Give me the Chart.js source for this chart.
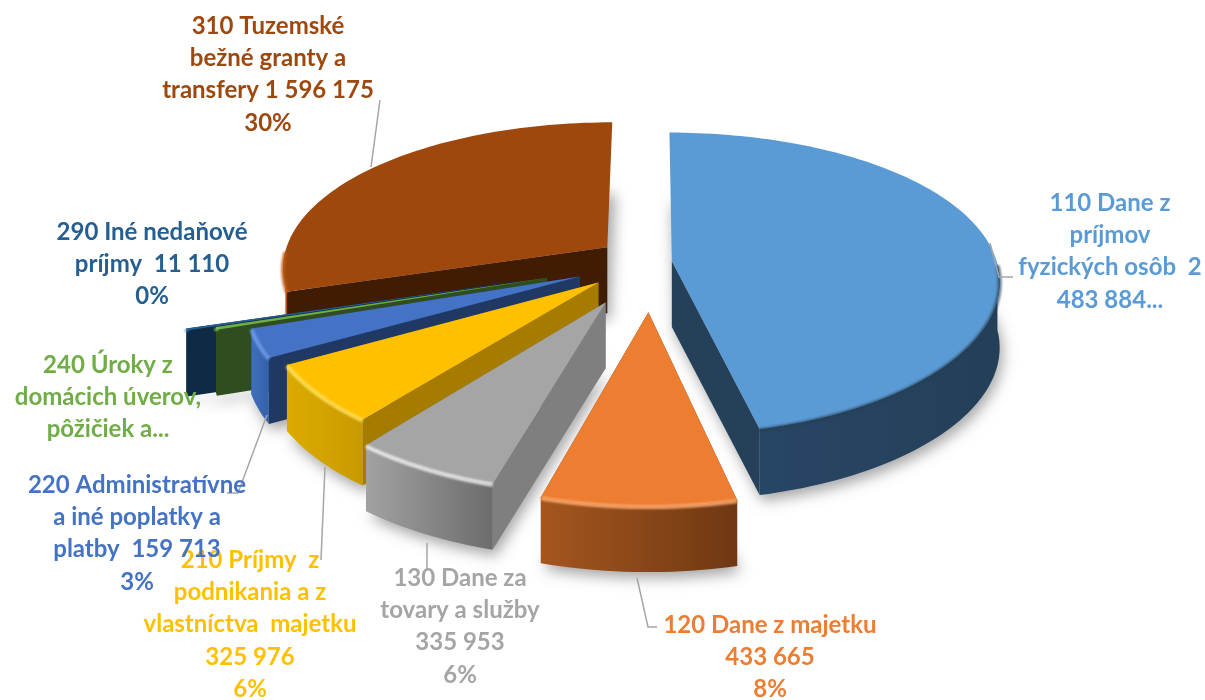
<!DOCTYPE html>
<html>
<head>
<meta charset="utf-8">
<script src="https://cdn.jsdelivr.net/npm/chart.js@4"></script>
<style>
  html, body { margin: 0; background: #fff; }
  canvas { display: block; filter: blur(0.5px); }
</style>
</head>
<body>
<canvas id="chart" width="1205" height="700"></canvas>
<script>
const categories = [
  '110 Dane z príjmov fyzických osôb',
  '120 Dane z majetku',
  '130 Dane za tovary a služby',
  '210 Príjmy z podnikania a z vlastníctva majetku',
  '220 Administratívne a iné poplatky a platby',
  '240 Úroky z domácich úverov, pôžičiek a...',
  '290 Iné nedaňové príjmy',
  '310 Tuzemské bežné granty a transfery'
]
const amounts = [2483884, 433665, 335953, 325976, 159713, 14000, 11110, 1596175]

const labelLines = [
  ['110 Dane z', 'príjmov', 'fyzických osôb  2', '483 884...'],
  ['120 Dane z majetku', '433 665', '8%'],
  ['130 Dane za', 'tovary a služby', '335 953', '6%'],
  ['210 Príjmy  z', 'podnikania a z', 'vlastníctva  majetku', '325 976', '6%'],
  ['220 Administratívne', 'a iné poplatky a', 'platby  159 713', '3%'],
  ['240 Úroky z', 'domácich úverov,', 'pôžičiek a...'],
  ['290 Iné nedaňové', 'príjmy  11 110', '0%'],
  ['310 Tuzemské', 'bežné granty a', 'transfery 1 596 175', '30%']
]

const topColors = ['#5b9bd5', '#ed7d31', '#a5a5a5', '#ffc000', '#4472c4', '#70ad47', '#255e91', '#9e480e']
const sideColors = ['#254059', '#7c4018', '#7f7f7f', '#a67c00', '#203864', '#2f4d1e', '#0e2a45', '#3f1c02']
const wallStart = ['#29496a', '#a5561e', '#a2a2a2', '#dcab00', '#3f6fc0', '#2f4d1e', '#0e2a45', '#b5540f']
const wallEnd = ['#243f58', '#6f3813', '#6c6c6c', '#c99a00', '#3560a8', '#2f4d1e', '#0e2a45', '#9e480e']
const rimColors = ['rgba(37,64,89,0.7)', 'rgba(255,170,110,0.9)', 'rgba(255,255,255,0.75)', 'rgba(255,225,90,0.9)',
  'rgba(120,165,240,0.8)', 'rgba(150,220,100,0.9)', 'rgba(60,130,190,0.9)', 'rgba(190,90,20,0.8)']
const explode = [21, 105, 96, 68, 77, 108, 135, 55]

// where the labels and their leader lines sit
const labelCenters = [[1110, 203], [770, 625], [460, 578], [250, 560], [137, 485], [108, 365], [152, 232], [268, 26]]
const leaders = [
  [[990, 243], [999, 277], [1013, 277]],
  [[637, 578], [648, 627], [657, 627]],
  [[427, 543], [427, 570]],
  [[325, 467], [321, 560]],
  [[267, 415], [238, 493], [227, 493]],
  [[371, 167], [380, 100]]
]

const view = { cx: 651, cy: 262, sy: 0.455, kx: 0.13, ky: 0.15, depth: 66, radius: 325 }

function project(u, v) {
  const px = 1 / (1 - view.kx * v / view.radius)
  const py = 1 / (1 - view.ky * v / view.radius)
  return [view.cx + u * px, view.cy + v * view.sy * py]
}

function tracePoly(ctx, pts) {
  ctx.beginPath()
  pts.forEach((pt, i) => i ? ctx.lineTo(pt[0], pt[1]) : ctx.moveTo(pt[0], pt[1]))
  ctx.closePath()
}

function down(pts) {
  return pts.map(pt => [pt[0], pt[1] + view.depth])
}

function drawSlice(ctx, arc, i) {
  const { startAngle, endAngle, outerRadius } = arc.getProps(['startAngle', 'endAngle', 'outerRadius'], true)
  const mid = (startAngle + endAngle) / 2
  const off = arc.options.offset
  const ox = Math.cos(mid) * off
  const oy = Math.sin(mid) * off
  const apex = project(ox, oy)
  const rim = []
  const front = []
  const steps = Math.max(4, Math.ceil((endAngle - startAngle) * 40))
  for (let s = 0; s <= steps; s++) {
    const a = startAngle + (endAngle - startAngle) * s / steps
    const pt = project(ox + Math.cos(a) * outerRadius, oy + Math.sin(a) * outerRadius)
    rim.push(pt)
    if (Math.sin(a) > 0.02) front.push(pt)
  }
  const first = rim[0]
  const last = rim[rim.length - 1]

  // soft shadow only: the shape itself is drawn off canvas
  ctx.save()
  ctx.shadowColor = 'rgba(0,0,0,0.35)'
  ctx.shadowBlur = 14
  ctx.shadowOffsetX = 3 + 3000
  ctx.shadowOffsetY = 6
  ctx.fillStyle = '#000'
  tracePoly(ctx, down([apex, ...rim]).map(pt => [pt[0] - 3000, pt[1]]))
  ctx.fill()
  ctx.restore()

  // flat cut faces, near vertical edges are seen edge on
  ctx.fillStyle = sideColors[i]
  ;[first, last].forEach(pt => {
    if (Math.abs(pt[0] - apex[0]) < 12) return
    tracePoly(ctx, [apex, pt, ...down([pt, apex])])
    ctx.fill()
  })

  // curved outer wall
  const xs = rim.map(pt => pt[0])
  const grad = ctx.createLinearGradient(Math.min(...xs), 0, Math.max(...xs), 0)
  grad.addColorStop(0, wallStart[i])
  grad.addColorStop(1, wallEnd[i])
  ctx.fillStyle = grad
  if (front.length > 1) {
    tracePoly(ctx, [...front, ...down(front).reverse()])
    ctx.fill()
  }

  // top face
  ctx.fillStyle = arc.options.backgroundColor
  tracePoly(ctx, [apex, ...rim])
  ctx.fill()

  // bevel along the front of the rim
  ctx.save()
  ctx.filter = 'blur(1px)'
  ctx.strokeStyle = rimColors[i]
  ctx.lineWidth = 4
  ctx.beginPath()
  front.forEach((pt, n) => n ? ctx.lineTo(pt[0], pt[1] + 1) : ctx.moveTo(pt[0], pt[1] + 1))
  ctx.stroke()
  ctx.restore()
}

const pie3d = {
  id: 'pie3d',
  beforeDatasetsDraw(chart) {
    const ctx = chart.ctx
    const arcs = chart.getDatasetMeta(0).data
    const order = arcs.map((arc, i) => i).sort((a, b) => {
      const midA = (arcs[a].startAngle + arcs[a].endAngle) / 2
      const midB = (arcs[b].startAngle + arcs[b].endAngle) / 2
      return Math.sin(midA) - Math.sin(midB)
    })
    order.forEach(i => drawSlice(ctx, arcs[i], i))
    return false
  },
  afterDraw(chart) {
    const ctx = chart.ctx
    ctx.save()
    ctx.strokeStyle = '#a6a6a6'
    ctx.lineWidth = 1.5
    leaders.forEach(line => {
      ctx.beginPath()
      line.forEach((pt, n) => n ? ctx.lineTo(pt[0], pt[1]) : ctx.moveTo(pt[0], pt[1]))
      ctx.stroke()
    })
    ctx.font = 'bold 24px Lato'
    ctx.textAlign = 'center'
    ctx.textBaseline = 'middle'
    labelLines.forEach((lines, i) => {
      ctx.fillStyle = topColors[i]
      lines.forEach((text, n) => ctx.fillText(text, labelCenters[i][0], labelCenters[i][1] + n * 32.3))
    })
    ctx.restore()
  }
}

new Chart(document.querySelector('#chart').getContext('2d'), {
  type: 'pie',
  data: {
    labels: categories,
    datasets: [{
      data: amounts,
      backgroundColor: topColors,
      offset: explode,
      borderWidth: 0,
      radius: view.radius
    }]
  },
  options: {
    responsive: false,
    animation: false,
    plugins: { legend: { display: false }, tooltip: { enabled: false } }
  },
  plugins: [pie3d]
})
</script>
</body>
</html>
